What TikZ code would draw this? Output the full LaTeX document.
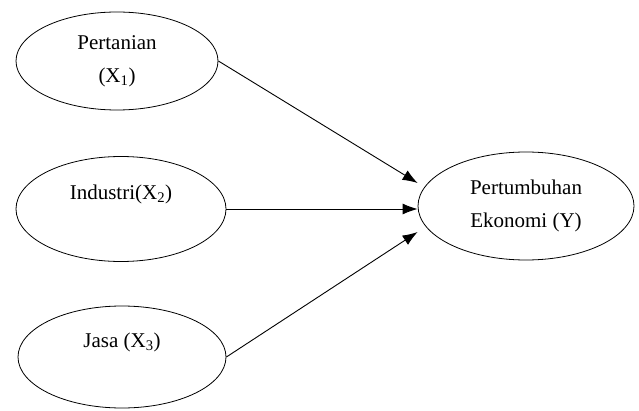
\documentclass[tikz,border=0pt]{standalone}
\usepackage{fontspec}
\setmainfont{Liberation Serif}
\usetikzlibrary{shapes.geometric,arrows.meta}

\begin{document}
\begin{tikzpicture}[x=1pt,y=1pt,node distance=148pt,
  var/.style={draw,ellipse,line width=0.8pt,inner sep=0pt,align=center,
    font=\fontsize{21}{33}\selectfont},
  panah/.style={-{Latex[length=15pt,width=11pt]},line width=0.9pt}]
        \useasboundingbox (0,0) rectangle (639,410);
        \node[var,minimum width=202pt,minimum height=98pt](X1) at (117,349){Pertanian\\(X\textsubscript{1})};
        \node[var,minimum width=210pt,minimum height=105pt](X2)[below of=X1,xshift=4pt]{Industri(X\textsubscript{2})\\\mbox{}};
        \node[var,minimum width=208pt,minimum height=102pt](X3)[below of=X2,xshift=1pt]{Jasa (X\textsubscript{3})\\\mbox{}};
        \node[var,minimum width=216pt,minimum height=108pt](Y)[right of=X2,node distance=405pt,yshift=3pt]{Pertumbuhan\\Ekonomi (Y)};
        \coordinate (t1) at ([yshift=23pt]Y.west);
        \coordinate (t2) at (Y.west |- X2.east);
        \coordinate (t3) at ([yshift=-26pt]Y.west);
        \draw[panah](X1.east) -- (t1);
        \draw[panah](X2.east) -- (t2);
        \draw[panah](X3.east) -- (t3);
    \end{tikzpicture}
\end{document}
